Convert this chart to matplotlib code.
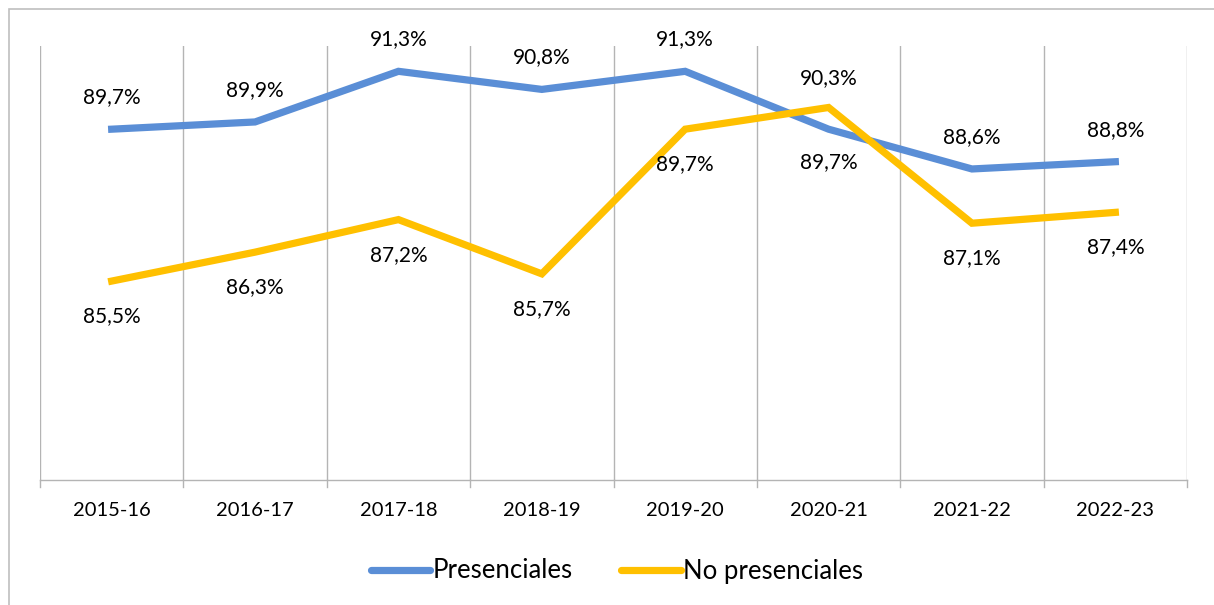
import matplotlib
matplotlib.use("Agg")
import matplotlib.pyplot as plt
from matplotlib.patches import Rectangle
from matplotlib.lines import Line2D

# Data
cursos = ["2015-16", "2016-17", "2017-18", "2018-19", "2019-20", "2020-21", "2021-22", "2022-23"]
presenciales = [89.7, 89.9, 91.3, 90.8, 91.3, 89.7, 88.6, 88.8]
no_presenciales = [85.5, 86.3, 87.2, 85.7, 89.7, 90.3, 87.1, 87.4]

azul = "#5A8ED6"
amarillo = "#FFC000"
gris = "#B4B4B4"

plt.rcParams['font.family'] = ['Lato', 'DejaVu Sans']

W, H = 1214, 605
fig = plt.figure(figsize=(W / 100, H / 100), dpi=100)
# plot area in pixels: x 40..1187, y 46..480
ax = fig.add_axes([40 / W, 1 - 480 / H, (1187 - 40) / W, (480 - 46) / H])

x = list(range(len(cursos)))
ax.plot(x, presenciales, color=azul, lw=5.2, solid_joinstyle='miter', zorder=3)
ax.plot(x, no_presenciales, color=amarillo, lw=5.2, solid_joinstyle='miter', zorder=3)

ax.set_xlim(-0.5, len(cursos) - 0.5)
ax.set_ylim(80, 92)

# vertical grid lines between categories
for b in [i - 0.5 for i in range(len(cursos) + 1)]:
    ax.axvline(b, color=gris, lw=1, zorder=1)

for s in ["top", "right", "left"]:
    ax.spines[s].set_visible(False)
ax.spines["bottom"].set_color(gris)
ax.spines["bottom"].set_linewidth(1)
ax.set_yticks([])
ax.set_xticks(x)
ax.set_xticklabels(cursos, fontsize=14.5)
ax.tick_params(axis='x', length=0, pad=16)
# tick marks below axis at boundaries
for b in [i - 0.5 for i in range(len(cursos) + 1)]:
    ax.plot([b, b], [0, -0.016], transform=ax.get_xaxis_transform(), color=gris,
            lw=1, clip_on=False)

def fmt(v):
    return f"{v:.1f}%".replace(".", ",")

for i, v in enumerate(presenciales):
    dy = -33 if i == 5 else 32
    ax.annotate(fmt(v), (i, v), xytext=(0, dy), textcoords='offset pixels',
                ha='center', va='center', fontsize=15)
for i, v in enumerate(no_presenciales):
    dy = 29 if i == 5 else -35
    ax.annotate(fmt(v), (i, v), xytext=(0, dy), textcoords='offset pixels',
                ha='center', va='center', fontsize=15)

# legend
handles = [Line2D([], [], color=azul, lw=5.2, solid_capstyle='round'),
           Line2D([], [], color=amarillo, lw=5.2, solid_capstyle='round')]
fig.legend(handles, ["Presenciales", "No presenciales"], loc='center',
           bbox_to_anchor=(617 / W, 1 - 571 / H), ncol=2, frameon=False,
           fontsize=18.5, handlelength=2.3, handletextpad=0.1, columnspacing=1.9)

# outer chart border (cropped on right and bottom)
fig.patches.append(Rectangle((8.5 / W, -0.1), 1.2, 1 - 8.5 / H + 0.1,
                             transform=fig.transFigure, fill=False,
                             edgecolor="#BFBFBF", lw=1.2))

fig.savefig("out.png", dpi=100)
